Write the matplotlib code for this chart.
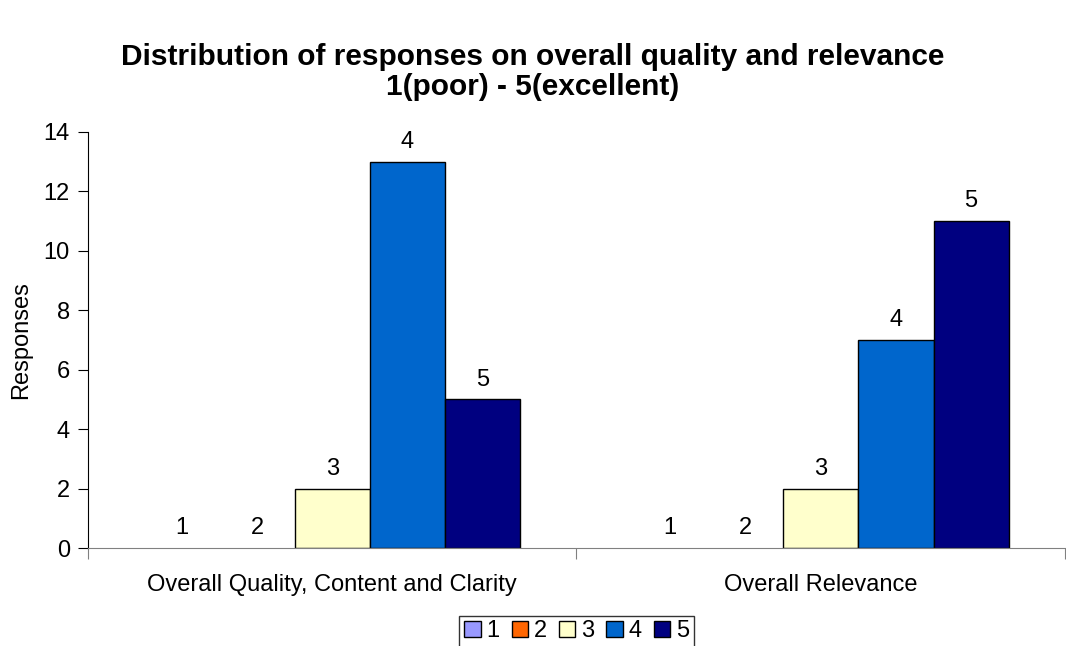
import numpy as np
import matplotlib.pyplot as plt
from matplotlib.patches import Patch

plt.rcParams['font.family'] = ['Liberation Sans', 'DejaVu Sans']

# Data
categories = ["Overall Quality, Content and Clarity", "Overall Relevance"]
ratings = ["1", "2", "3", "4", "5"]
counts = {
    "1": [0, 0],
    "2": [0, 0],
    "3": [2, 2],
    "4": [13, 7],
    "5": [5, 11],
}
colors = ["#9999FF", "#FF6600", "#FFFFCC", "#0066CC", "#000080"]

fig = plt.figure(figsize=(10.66, 6.46), dpi=100)
ax = fig.add_axes([0.0825, 0.1517, 0.9165, 0.644])

x = np.arange(len(categories))
width = 0.154
for i, (r, c) in enumerate(zip(ratings, colors)):
    pos = x + (i - 2) * width
    edges = ["black" if v > 0 else "none" for v in counts[r]]
    ax.bar(pos, counts[r], width, color=c, edgecolor=edges, linewidth=1)
    for px, v in zip(pos, counts[r]):
        ax.text(px, v + 0.3, r, ha="center", va="bottom", fontsize=17)

ax.set_xlim(-0.5, 1.5)
ax.set_ylim(0, 14)
ax.set_yticks(range(0, 15, 2))
ax.set_xticks([-0.5, 0.5, 1.5], minor=False)
ax.set_xticklabels([])
ax.set_xticks(x, minor=True)
ax.set_xticklabels(categories, minor=True, fontsize=17)
ax.tick_params(axis="x", which="minor", length=0, pad=19)
ax.tick_params(axis="x", which="major", length=8, color="#808080")
ax.tick_params(axis="y", labelsize=17, length=7, pad=6)
ax.spines["top"].set_visible(False)
ax.spines["right"].set_visible(False)
ax.spines["bottom"].set_color("#808080")
ax.set_ylabel("Responses", fontsize=17, labelpad=8)

fig.suptitle("Distribution of responses on overall quality and relevance\n1(poor) - 5(excellent)",
             fontsize=21.5, fontweight="bold", y=0.933, linespacing=1.08)

handles = [Patch(facecolor=c, edgecolor="black", label=r) for r, c in zip(ratings, colors)]
fig.legend(handles=handles, loc="lower center", bbox_to_anchor=(0.541, -0.02), ncol=5,
           fontsize=17, frameon=True, fancybox=False, edgecolor="black",
           handlelength=0.7, handleheight=0.7, handletextpad=0.25, columnspacing=0.5,
           borderpad=0.2)

fig.savefig("out.png", dpi=100)
